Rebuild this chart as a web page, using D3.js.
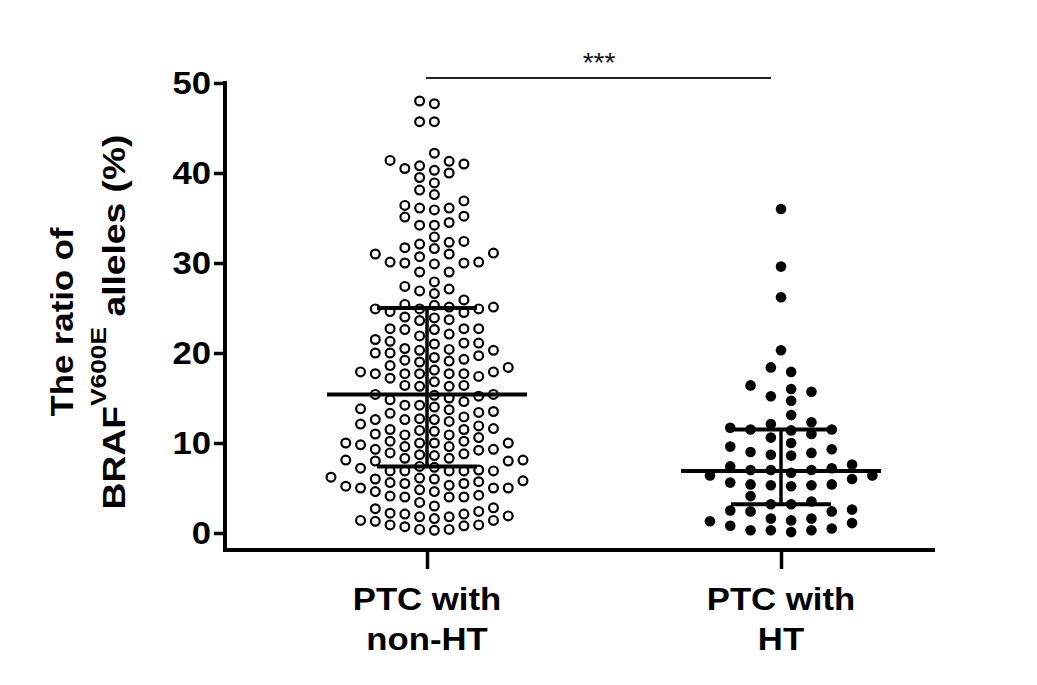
<!DOCTYPE html>
<html>
<head>
<meta charset="utf-8">
<script src="https://cdn.jsdelivr.net/npm/d3@7"></script>
<style>
  html, body { margin: 0; padding: 0; background: #ffffff; }
  svg { display: block; }
</style>
</head>
<body>
<svg id="chart" width="1037" height="685"></svg>
<script>
// ---------------- data ----------------
const categories = ["PTC with non-HT", "PTC with HT"];
const categoryLines = [["PTC with", "non-HT"], ["PTC with", "HT"]];

// BRAF V600E allele ratio (%) — PTC with non-HT
const nonHTValues = [
  48.0, 47.7, 45.7, 45.7, 42.2, 41.0, 41.3, 41.4, 40.0, 40.5, 40.8, 39.5, 40.3, 38.9,
  38.1, 37.6, 36.9, 36.1, 35.1, 35.9, 34.2, 36.1, 34.5, 36.4, 35.2, 34.2,
  32.9, 32.4, 32.3, 32.1, 31.7, 31.6, 31.0, 30.7, 31.0, 31.1, 29.9, 30.0, 30.0, 30.1,
  29.0, 30.1, 29.0, 27.1, 26.9, 27.4, 27.9, 26.6, 25.9, 25.3, 24.9, 24.9, 24.9, 25.1,
  24.6, 24.5, 25.1, 25.4, 23.6, 23.7, 24.0, 23.9, 22.7, 22.6, 22.7, 22.7, 22.6, 21.5,
  22.1, 21.0, 21.1, 21.1, 21.3, 21.9, 20.3, 20.4, 19.2, 20.3, 19.0, 20.0, 20.0, 19.7,
  18.6, 20.5, 19.3, 19.5, 18.1, 19.1, 17.9, 18.4, 17.2, 17.7, 17.7, 17.9, 16.8, 17.7,
  16.4, 17.7, 16.4, 17.4, 17.7, 16.3, 16.3,
  10.9, 9.6, 8.0, 6.0, 2.1,
  12.6, 11.3, 10.0, 8.8, 7.4, 6.2, 5.0, 1.8, 0.7,
  15.4, 14.2, 12.9, 11.6, 10.0, 8.3, 6.9, 5.2, 4.0, 2.7, 1.4,
  14.6, 13.3, 11.9, 10.6, 9.2, 8.1, 6.9, 5.7, 4.6, 3.4, 2.1, 0.9,
  15.3, 12.6, 9.3, 8.1, 5.6, 4.0, 2.8, 1.4,
  14.2, 12.7, 11.5, 10.2, 8.9, 6.9, 5.3, 4.0, 0.3,
  15.4, 13.8, 11.4, 10.0, 8.7, 6.9, 5.5, 4.1, 2.4, 1.3,
  15.2, 14.0, 12.1, 10.9, 9.6, 8.3, 6.9, 5.0, 1.9, 0.4,
  14.8, 13.5, 12.4, 11.0, 9.8, 8.6, 7.0, 5.8, 4.6, 0.8,
  15.0, 13.7, 12.6, 9.3, 8.0, 5.5, 4.2, 3.0, 1.8, 0.4,
  13.4, 11.5, 10.2, 7.2, 6.0, 4.8, 2.2, 0.9,
  10.0, 7.3, 6.1, 5.0, 1.6
];

// BRAF V600E allele ratio (%) — PTC with HT
const htValues = [
  36.0, 29.6, 26.2, 20.3, 18.4, 17.9, 16.4, 15.2, 16.0, 15.7, 14.7, 13.1, 11.7, 11.5,
  12.1, 10.6, 11.5, 12.3, 11.0, 11.4, 10.0, 9.6, 9.3, 9.0, 8.7, 8.9, 8.6, 7.0, 6.4,
  7.6, 6.4, 7.4, 7.2, 6.0, 6.7, 7.0, 7.0, 5.6, 5.4, 5.3, 5.2, 5.3, 5.4, 4.1, 3.5,
  3.2, 3.2, 2.6, 1.4, 0.3, 1.6, 0.5, 2.4, 1.1, 1.3, 0.1, 2.4, 0.8, 1.6, 0.3, 2.5, 0.3
];

// median with interquartile range, as drawn
const medians = [15.4, 6.9];
const q1Values = [7.4, 3.2];
const q3Values = [25.0, 11.5];

const yTicks = [0, 10, 20, 30, 40, 50];
const yDomain = [0, 50];
const significanceLabel = "***";

// ---------------- drawing ----------------
const svg = d3.select("#chart");
const FONT = "'Liberation Sans', Arial, Helvetica, sans-serif";
const STRETCH = 1.12;

const y = d3.scaleLinear().domain(yDomain).range([533, 83]);
const x = d3.scalePoint().domain(categories).range([427, 781]);

const axisX = 225;      // y-axis spine
const axisY = 550;      // x-axis spine

// --- swarm layout (columns at half offsets, isolated points centred) ---
function swarm(values) {
  const minDy = 11;
  const pts = values.map(v => ({ v, py: y(v) })).sort((a, b) => a.v - b.v);
  const lastInCol = new Map();
  pts.forEach(p => {
    for (let k = 0; k < 50; k++) {
      let done = false;
      for (const c of [k + 0.5, -(k + 0.5)]) {
        const last = lastInCol.get(c);
        if (last === undefined || Math.abs(last - p.py) >= minDy) {
          p.col = c; lastInCol.set(c, p.py); done = true; break;
        }
      }
      if (done) break;
    }
  });
  pts.forEach(p => {
    const isolated = pts.every(q => q === p || Math.abs(q.py - p.py) >= minDy);
    if (isolated) p.col = 0;
  });
  const maxCol = d3.max(pts, p => Math.abs(p.col)) || 0.5;
  const spacing = Math.min(20.3, 96 / maxCol);
  pts.forEach(p => { p.dx = p.col * spacing; });
  return pts;
}

const groups = [
  { cat: categories[0], pts: swarm(nonHTValues), open: true },
  { cat: categories[1], pts: swarm(htValues), open: false }
];

// points
groups.forEach(g => {
  const cx = x(g.cat);
  svg.append("g").selectAll("circle")
    .data(g.pts)
    .join("circle")
    .attr("cx", d => cx + d.dx)
    .attr("cy", d => y(d.v))
    .attr("r", g.open ? 4.4 : 5.3)
    .attr("fill", g.open ? "#ffffff" : "#000000")
    .attr("stroke", g.open ? "#000000" : "none")
    .attr("stroke-width", g.open ? 2.2 : 0);
});

// median & IQR bars
categories.forEach((c, i) => {
  const cx = x(c);
  const g = svg.append("g").attr("stroke", "#000").attr("stroke-linecap", "butt");
  g.append("line").attr("x1", cx).attr("x2", cx)
    .attr("y1", y(q1Values[i])).attr("y2", y(q3Values[i])).attr("stroke-width", 3.5);
  g.append("line").attr("x1", cx - 100).attr("x2", cx + 100)
    .attr("y1", y(medians[i])).attr("y2", y(medians[i])).attr("stroke-width", 4);
  [q1Values[i], q3Values[i]].forEach(q => {
    g.append("line").attr("x1", cx - 50).attr("x2", cx + 50)
      .attr("y1", y(q)).attr("y2", y(q)).attr("stroke-width", 4);
  });
});

// y axis ticks via d3 axis
const yAxisG = svg.append("g")
  .attr("transform", `translate(${axisX},0)`)
  .call(d3.axisLeft(y).tickValues(yTicks).tickSize(11).tickSizeOuter(0).tickFormat(""));
yAxisG.select(".domain").remove();
yAxisG.selectAll(".tick line").attr("stroke", "#000").attr("stroke-width", 3.5);

// y tick labels
yTicks.forEach(t => {
  svg.append("g")
    .attr("transform", `translate(211,${y(t)}) scale(${STRETCH},1)`)
    .append("text")
    .attr("text-anchor", "end")
    .attr("dy", "0.36em")
    .attr("font-family", FONT)
    .attr("font-weight", "bold")
    .attr("font-size", 31)
    .attr("fill", "#000")
    .text(t);
});

// x axis ticks via d3 axis
const xAxisG = svg.append("g")
  .attr("transform", `translate(0,${axisY})`)
  .call(d3.axisBottom(x).tickSize(19).tickSizeOuter(0).tickFormat(""));
xAxisG.select(".domain").remove();
xAxisG.selectAll(".tick line").attr("stroke", "#000").attr("stroke-width", 3.5);

// spines
svg.append("line").attr("x1", axisX).attr("x2", axisX)
  .attr("y1", 81).attr("y2", axisY + 2).attr("stroke", "#000").attr("stroke-width", 4);
svg.append("line").attr("x1", axisX - 2).attr("x2", 935)
  .attr("y1", axisY).attr("y2", axisY).attr("stroke", "#000").attr("stroke-width", 4);

// x category labels
categories.forEach((c, i) => {
  categoryLines[i].forEach((line, j) => {
    svg.append("g")
      .attr("transform", `translate(${x(c)},${610 + j * 40}) scale(${STRETCH},1)`)
      .append("text")
      .attr("text-anchor", "middle")
      .attr("font-family", FONT)
      .attr("font-weight", "bold")
      .attr("font-size", 31)
      .attr("fill", "#000")
      .text(line);
  });
});

// y axis title
svg.append("g")
  .attr("transform", `translate(73,322) rotate(-90) scale(${STRETCH},1)`)
  .append("text")
  .attr("text-anchor", "middle")
  .attr("font-family", FONT)
  .attr("font-weight", "bold")
  .attr("font-size", 31)
  .attr("fill", "#000")
  .text("The ratio of");

const t2 = svg.append("g")
  .attr("transform", `translate(125,322) rotate(-90) scale(${STRETCH + 0.08},1)`)
  .append("text")
  .attr("text-anchor", "middle")
  .attr("font-family", FONT)
  .attr("font-weight", "bold")
  .attr("font-size", 31)
  .attr("fill", "#000");
t2.append("tspan").text("BRAF");
t2.append("tspan").attr("dy", -19).attr("font-size", 22).text("V600E");
t2.append("tspan").attr("dy", 19).text(" alleles (%)");

// significance bracket
svg.append("line")
  .attr("x1", x(categories[0]) - 1).attr("x2", x(categories[1]) - 10)
  .attr("y1", 78).attr("y2", 78)
  .attr("stroke", "#222").attr("stroke-width", 2);
svg.append("text")
  .attr("x", (x(categories[0]) + x(categories[1])) / 2 - 5)
  .attr("y", 72)
  .attr("text-anchor", "middle")
  .attr("font-family", FONT)
  .attr("font-size", 28)
  .attr("fill", "#111")
  .text(significanceLabel);
</script>
</body>
</html>
